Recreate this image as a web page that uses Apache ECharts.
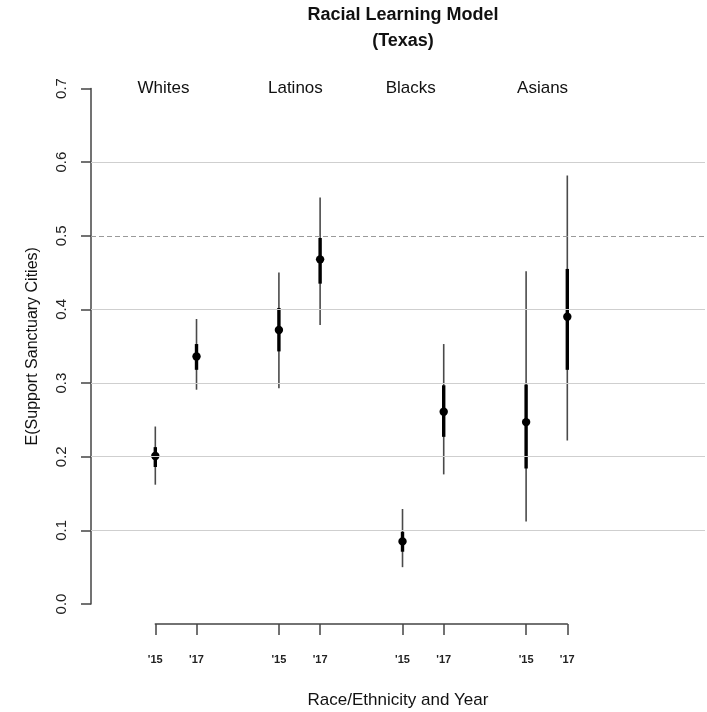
<!DOCTYPE html>
<html><head><meta charset="utf-8">
<script src="https://cdn.jsdelivr.net/npm/echarts@6/dist/echarts.min.js"></script>
<style>html,body{margin:0;padding:0;background:#fff}#c{width:707px;height:712px}</style>
</head><body><div id="c"></div>
<script>
// ---- data ----
const groups = ['Whites', 'Latinos', 'Blacks', 'Asians'];
const groupLabelPos = [1.2, 4.4, 7.2, 10.4];
const xPos = [1, 2, 4, 5, 7, 8, 10, 11];
const yearLabels = ["'15", "'17", "'15", "'17", "'15", "'17", "'15", "'17"];
const est  = [0.201, 0.336, 0.372, 0.468, 0.085, 0.261, 0.247, 0.390];
const lo95 = [0.162, 0.291, 0.293, 0.379, 0.050, 0.176, 0.112, 0.222];
const hi95 = [0.241, 0.387, 0.450, 0.552, 0.129, 0.353, 0.452, 0.582];
const lo68 = [0.186, 0.318, 0.343, 0.435, 0.071, 0.227, 0.184, 0.318];
const hi68 = [0.213, 0.353, 0.402, 0.497, 0.098, 0.297, 0.298, 0.455];
const gridValues = [0.1, 0.2, 0.3, 0.4, 0.6];
const refValue = 0.5;
const yMin = 0, yMax = 0.7, yStep = 0.1;
const titleText = 'Racial Learning Model\n(Texas)';
const yTitle = 'E(Support Sanctuary Cities)';
const xTitle = 'Race/Ethnicity and Year';

// ---- build ----
const FONT = "'Liberation Sans', Arial, Helvetica, sans-serif";
const xCats = [];
for (let i = 1; i <= 11; i++) {
  const k = xPos.indexOf(i);
  xCats.push(k >= 0 ? yearLabels[k] : '');
}
const barData = xPos.map((x, i) => [x, est[i], lo95[i], hi95[i], lo68[i], hi68[i]]);
const labelData = groups.map((g, i) => [groupLabelPos[i], yMax, g]);

const markData = gridValues.map(v => ({yAxis: v, lineStyle: {color: '#cfcfcf', type: 'solid', width: 1}}))
  .concat([{yAxis: refValue, lineStyle: {color: '#9a9a9a', type: [5, 3], width: 1}}]);

const chart = echarts.init(document.getElementById('c'), null, {renderer: 'canvas'});
chart.setOption({
  animation: false,
  backgroundColor: '#fff',
  textStyle: {fontFamily: FONT},
  title: {
    text: titleText, left: 398, top: -3, textAlign: 'center',
    textStyle: {fontFamily: FONT, fontSize: 18, fontWeight: 'bold', color: '#111', lineHeight: 26}
  },
  grid: [
    {left: 91, right: 2, top: 88.5, bottom: 108, containLabel: false, outerBoundsMode: 'none'},
    {left: 155.3, right: 139.7, top: 623, height: 1, containLabel: false, outerBoundsMode: 'none'}
  ],
  xAxis: [
    {
      gridIndex: 0, type: 'value', min: -0.561, max: 14.342,
      axisLine: {show: false}, axisTick: {show: false}, axisLabel: {show: false}, splitLine: {show: false},
      name: xTitle, nameLocation: 'middle', nameGap: 88,
      nameTextStyle: {fontFamily: FONT, fontSize: 17, color: '#111'}
    },
    {
      gridIndex: 1, type: 'category', data: xCats, boundaryGap: false,
      axisLine: {show: true, lineStyle: {color: '#444', width: 1.5}},
      axisTick: {show: true, length: 11, lineStyle: {color: '#444', width: 1.5},
        interval: (idx, val) => val !== ''},
      axisLabel: {show: true, interval: (idx, val) => val !== '', margin: 30,
        fontFamily: FONT, fontSize: 11, fontWeight: 'bold', color: '#222'},
      splitLine: {show: false}
    }
  ],
  yAxis: [
    {
      gridIndex: 0, type: 'value', min: yMin, max: yMax, interval: yStep,
      axisLine: {show: true, onZero: false, lineStyle: {color: '#444', width: 1.5}},
      axisTick: {show: true, length: 10, lineStyle: {color: '#444', width: 1.5}},
      axisLabel: {show: true, rotate: 90, margin: 22, fontFamily: FONT, fontSize: 15, color: '#222',
        formatter: v => v.toFixed(1)},
      splitLine: {show: false},
      name: yTitle, nameLocation: 'middle', nameRotate: 90, nameGap: 50,
      nameTextStyle: {fontFamily: FONT, fontSize: 16, color: '#111'}
    },
    {gridIndex: 1, type: 'value', show: false, min: 0, max: 1}
  ],
  series: [
    {
      type: 'custom', xAxisIndex: 0, yAxisIndex: 0, z: 1, silent: true,
      data: labelData,
      renderItem: (params, api) => {
        const p = api.coord([api.value(0), api.value(1)]);
        return {type: 'text', style: {text: labelData[params.dataIndex][2], x: p[0], y: p[1],
          align: 'center', verticalAlign: 'middle', font: '17px ' + FONT, fill: '#111'}};
      },
      markLine: {silent: true, symbol: ['none', 'none'], label: {show: false}, data: markData}
    },
    {
      type: 'custom', xAxisIndex: 0, yAxisIndex: 0, z: 3, silent: true,
      data: barData,
      renderItem: (params, api) => {
        const x = api.value(0);
        const pE = api.coord([x, api.value(1)]);
        const p95a = api.coord([x, api.value(2)]);
        const p95b = api.coord([x, api.value(3)]);
        const p68a = api.coord([x, api.value(4)]);
        const p68b = api.coord([x, api.value(5)]);
        return {type: 'group', children: [
          {type: 'line', shape: {x1: p95a[0], y1: p95a[1], x2: p95b[0], y2: p95b[1]},
            style: {stroke: '#4a4a4a', lineWidth: 1.6}},
          {type: 'line', shape: {x1: p68a[0], y1: p68a[1], x2: p68b[0], y2: p68b[1]},
            style: {stroke: '#000', lineWidth: 3.4}},
          {type: 'circle', shape: {cx: pE[0], cy: pE[1], r: 4.2}, style: {fill: '#000'}}
        ]};
      }
    }
  ]
});
</script></body></html>
